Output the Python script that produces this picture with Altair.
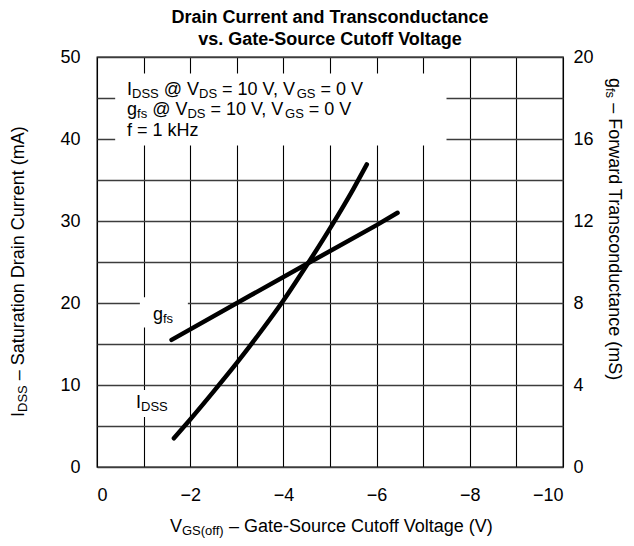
import altair as alt
import pandas as pd

# ---------------- data ----------------
vgs_idss = [-1.65, -2.0, -2.5, -3.0, -3.5, -4.0, -4.5, -5.0, -5.5, -5.79]
idss_ma = [3.5, 5.8, 9.2, 12.7, 16.4, 20.3, 24.6, 29.1, 33.9, 36.9]

vgs_gfs = [-1.6, -3.28, -4.46, -6.0, -6.45]
gfs_ms = [6.2, 8.35, 9.85, 11.8, 12.4]

x_grid_values = [0, -1, -2, -3, -4, -5, -6, -7, -8, -9, -10]
y_left_grid_values = [0, 5, 10, 15, 20, 25, 30, 35, 40, 45, 50]
y_right_values = [0, 4, 8, 12, 16, 20]

title_lines = ["Drain Current and Transconductance", "vs. Gate-Source Cutoff Voltage"]

# ---------------- styling helpers ----------------
FONT = "Liberation Sans"
FS = 18
FS_SUB = 13
SUB_DY = 3

W = {' ': 278, '!': 278, '(': 333, ')': 333, ',': 278, '-': 333, '.': 278, '=': 584,
     '@': 1015, '\u2013': 556, '\u2212': 584,
     'A': 667, 'B': 667, 'C': 722, 'D': 722, 'E': 667, 'F': 611, 'G': 778, 'H': 722,
     'I': 278, 'K': 667, 'L': 556, 'M': 833, 'N': 722, 'O': 778, 'P': 667, 'R': 722,
     'S': 667, 'T': 611, 'U': 722, 'V': 667, 'W': 944,
     'a': 556, 'b': 556, 'c': 500, 'd': 556, 'e': 556, 'f': 278, 'g': 556, 'h': 556,
     'i': 222, 'j': 222, 'k': 500, 'l': 222, 'm': 833, 'n': 556, 'o': 556, 'p': 556,
     'q': 556, 'r': 333, 's': 500, 't': 278, 'u': 556, 'v': 500, 'w': 722, 'x': 500,
     'y': 500, 'z': 500}
for d in "0123456789":
    W[d] = 556


def tw(s, size):
    return sum(W.get(c, 556) for c in s) * size / 1000.0


def layout(parts):
    """parts: list of (text, is_subscript) -> list of (text, size, dx, dy), total width.
    Leading/trailing spaces are turned into offsets (the renderer trims them)."""
    out = []
    off = 0.0
    for t, sub in parts:
        size = FS_SUB if sub else FS
        lead = len(t) - len(t.lstrip(" "))
        core = t.strip(" ")
        out.append((core, size, off + tw(" " * lead, size), SUB_DY if sub else 0))
        off += tw(t, size)
    return out, off


one = pd.DataFrame({"k": [0]})

xscale = alt.Scale(domain=[-10, 0], reverse=True, nice=False, zero=False)
yscale = alt.Scale(domain=[0, 50], nice=False, zero=False)
yscale_r = alt.Scale(domain=[0, 20], nice=False, zero=False)


def text_group_data(parts, xv, yv, center=False):
    items, total = layout(parts)
    start = -total / 2 if center else 0
    layers = []
    for t, size, dx, dy in items:
        layers.append(
            alt.Chart(one).mark_text(
                text=t, font=FONT, fontSize=size, align="left", baseline="alphabetic",
                dx=start + dx, dy=dy, color="black"
            ).encode(
                x=alt.XDatum(xv, scale=xscale),
                y=alt.YDatum(yv, scale=yscale),
            )
        )
    return layers


def text_group_px(parts, px, py, angle=0, center=False):
    items, total = layout(parts)
    start = -total / 2 if center else 0
    layers = []
    for t, size, dx, dy in items:
        kw = dict(text=t, font=FONT, fontSize=size, align="left", baseline="alphabetic",
                  dx=start + dx, dy=dy, color="black")
        if angle:
            kw["angle"] = angle
        layers.append(
            alt.Chart(one).mark_text(**kw).encode(x=alt.value(px), y=alt.value(py))
        )
    return layers


def white_box(x1, x2, y1, y2):
    return alt.Chart(one).mark_rect(color="white").encode(
        x=alt.XDatum(x1, scale=xscale),
        x2=alt.X2Datum(x2),
        y=alt.YDatum(y1, scale=yscale),
        y2=alt.Y2Datum(y2),
    )


# ---------------- main curves ----------------
df_idss = pd.DataFrame({"v": vgs_idss, "i": idss_ma})
df_gfs = pd.DataFrame({"v": vgs_gfs, "g": gfs_ms})

x_axis = alt.Axis(
    values=x_grid_values,
    labelExpr="datum.value % 2 == 0 ? (datum.value == 0 ? '0' : '\u2212' + abs(datum.value)) : ''",
    grid=True, gridColor="#000000", gridWidth=1.1, gridOpacity=1,
    ticks=False, domain=False, title=None, labelPadding=19,
    labelFont=FONT, labelFontSize=FS, labelColor="black",
)
y_axis = alt.Axis(
    values=y_left_grid_values,
    labelExpr="datum.value % 10 == 0 ? datum.label : ''",
    grid=True, gridColor="#3c3c3c", gridWidth=1.4, gridOpacity=1,
    ticks=False, domain=False, title=None, labelPadding=17,
    labelFont=FONT, labelFontSize=FS, labelColor="black",
)
y_axis_r = alt.Axis(
    orient="right", values=y_right_values, grid=False, ticks=False, domain=False,
    title=None, labelPadding=10, labelFont=FONT, labelFontSize=FS, labelColor="black",
)

idss_line = alt.Chart(df_idss).mark_line(
    color="black", strokeWidth=4.5, strokeCap="round", interpolate="monotone"
).encode(
    x=alt.X("v:Q", scale=xscale, axis=x_axis),
    y=alt.Y("i:Q", scale=yscale, axis=y_axis),
)

gfs_line = alt.Chart(df_gfs).mark_line(
    color="black", strokeWidth=4.5, strokeCap="round"
).encode(
    x=alt.X("v:Q", scale=xscale),
    y=alt.Y("g:Q", scale=yscale_r, axis=y_axis_r),
)

# ---------------- annotations ----------------
boxes = [
    white_box(-0.39, -7.5, 39.2, 48.0),
    white_box(-0.92, -1.95, 17.0, 20.7),
    white_box(-0.77, -1.62, 6.1, 9.4),
]

texts = []
texts += text_group_data([("I", False), ("DSS", True), (" @ V", False), ("DS", True),
                          (" = 10 V, V", False), ("GS", True), (" = 0 V", False)],
                         -0.644, 45.37)
texts += text_group_data([("g", False), ("fs", True), (" @ V", False), ("DS", True),
                          (" = 10 V, V", False), ("GS", True), (" = 0 V", False)],
                         -0.644, 42.93)
texts += text_group_data([("f = 1 kHz", False)], -0.644, 40.4)
texts += text_group_data([("g", False), ("fs", True)], -1.2, 17.9)
texts += text_group_data([("I", False), ("DSS", True)], -0.837, 7.2)

# axis titles (outside the plot area, placed in pixels)
texts += text_group_px([("V", False), ("GS(off)", True),
                        (" \u2013 Gate-Source Cutoff Voltage (V)", False)],
                       235, 475, center=True)
texts += text_group_px([("I", False), ("DSS", True),
                        (" \u2013 Saturation Drain Current (mA)", False)],
                       -73, 360, angle=270)
texts += text_group_px([("g", False), ("fs", True),
                        (" \u2013 Forward Transconductance (mS)", False)],
                       512, 21, angle=90)

left = alt.layer(idss_line, *boxes, *texts)

chart = alt.layer(left, gfs_line).resolve_scale(y="independent").properties(
    width=466,
    height=410,
    padding={"left": 89, "top": 49, "right": 63, "bottom": 71},
    autosize=alt.AutoSizeParams(type="none"),
    title=alt.Title(text=title_lines, font=FONT, fontSize=18, fontWeight="bold",
                    color="black", anchor="middle", offset=-1, lineHeight=22),
).configure_view(
    stroke="black", strokeWidth=1.3
)

chart.save("out.html", embed_options={"renderer": "svg", "actions": False})
